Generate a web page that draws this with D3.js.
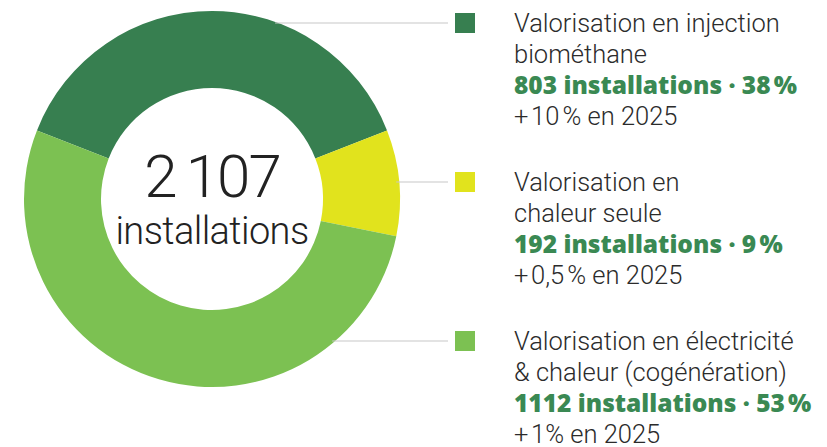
<!DOCTYPE html>
<html>
<head>
<meta charset="utf-8">
<script src="https://cdn.jsdelivr.net/npm/d3@7"></script>
<style>
  body { margin: 0; background: #fff; }
  svg { display: block; }
</style>
</head>
<body>
<script>
// donnees
var categories = ["Valorisation en injection biométhane", "Valorisation en chaleur seule", "Valorisation en électricité & chaleur (cogénération)"];
var labelLines = [["Valorisation en injection", "biométhane"], ["Valorisation en", "chaleur seule"], ["Valorisation en électricité", "& chaleur (cogénération)"]];
var installations = [803, 192, 1112];
var shares = ["38\u202F%", "9\u202F%", "53\u202F%"];
var growth = ["+\u200A10\u202F% en 2025", "+\u200A0,5\u202F% en 2025", "+\u200A1% en 2025"];
var colors = ["#377f50", "#e1e31d", "#7cc152"];

var width = 827, height = 447;
var cx = 212, cy = 199, rOuter = 188, rInner = 111;

var svg = d3.select("body").append("svg")
    .attr("width", width)
    .attr("height", height);

var total = d3.sum(installations);
var fr = d3.formatLocale({decimal: ",", thousands: "\u2009", grouping: [3], currency: ["", " €"]});

// premier secteur centre sur midi
var start = -Math.PI * installations[0] / total;
var pie = d3.pie().sort(null).startAngle(start).endAngle(start + 2 * Math.PI);
var arc = d3.arc().innerRadius(rInner).outerRadius(rOuter);

var donut = svg.append("g").attr("transform", "translate(" + cx + "," + cy + ")");
donut.selectAll("path")
    .data(pie(installations))
    .enter()
    .append("path")
    .attr("d", arc)
    .attr("fill", function (d, i) { return colors[i]; });

// texte central
donut.append("text")
    .attr("x", 0).attr("y", -2)
    .attr("text-anchor", "middle")
    .style("font-family", "Roboto").style("font-weight", 300)
    .style("font-size", "60px").style("letter-spacing", "-2px").attr("fill", "#222")
    .text(fr.format(",")(total));
donut.append("text")
    .attr("x", 0).attr("y", 45)
    .attr("text-anchor", "middle")
    .style("font-family", "Roboto").style("font-weight", 300)
    .style("font-size", "38px").style("letter-spacing", "-0.6px").attr("fill", "#222")
    .text("installations");

// legende
var legendY = d3.scalePoint().domain(categories).range([23, 341]);
var lineH = 31;

var item = svg.selectAll("g.leg")
    .data(categories)
    .enter()
    .append("g")
    .attr("class", "leg");

item.append("line")
    .attr("x1", function (d) {
        var dy = legendY(d) - cy;
        return cx + Math.sqrt(rOuter * rOuter - dy * dy) - 3;
    })
    .attr("x2", 448)
    .attr("y1", function (d) { return legendY(d); })
    .attr("y2", function (d) { return legendY(d); })
    .attr("stroke", "#c8c8c8").attr("stroke-width", 1.2);

item.append("rect")
    .attr("x", 455)
    .attr("y", function (d) { return legendY(d) - 10; })
    .attr("width", 20).attr("height", 20)
    .attr("fill", function (d, i) { return colors[i]; });

item.each(function (d, i) {
    var g = d3.select(this);
    var y0 = legendY(d) + 9;
    labelLines[i].forEach(function (t, k) {
        g.append("text")
            .attr("x", 514).attr("y", y0 + k * lineH)
            .style("font-family", "Roboto").style("font-weight", 300)
            .style("font-size", "25.5px").attr("fill", "#2b2b2b")
            .text(t);
    });
    g.append("text")
        .attr("x", 514).attr("y", y0 + 2 * lineH)
        .style("font-family", "Open Sans").style("font-weight", 800)
        .style("font-size", "24.5px").attr("fill", "#3a8953")
        .text(installations[i] + " installations \u00B7 " + shares[i]);
    g.append("text")
        .attr("x", 514).attr("y", y0 + 3 * lineH)
        .style("font-family", "Roboto").style("font-weight", 300)
        .style("font-size", "25.5px").attr("fill", "#2b2b2b")
        .text(growth[i]);
});
</script>
</body>
</html>
